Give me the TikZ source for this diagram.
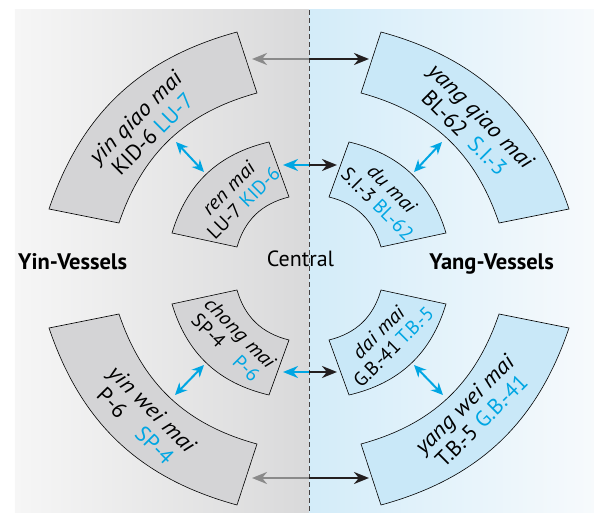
\documentclass[tikz,border=0pt]{standalone}
\usepackage{fontspec}
\setmainfont{PT Sans}[ItalicFeatures={FakeStretch=1.1}]
\usepackage{xcolor}
\usetikzlibrary{arrows.meta,calc}
\definecolor{yinfill}{HTML}{D4D4D6}
\definecolor{yangfill}{HTML}{C9E8F8}
\definecolor{pointblue}{HTML}{00A6E3}
\definecolor{yinleft}{HTML}{F6F6F6}
\definecolor{yinright}{HTML}{D9D9DA}
\definecolor{yangleft}{HTML}{D3ECF9}
\definecolor{yangright}{HTML}{F7FAFC}
\definecolor{arrowgray}{HTML}{8A8A8A}
\definecolor{arrowblack}{HTML}{231F20}

\begin{document}
\begin{tikzpicture}[x=1pt,y=1pt]
  \tikzset{yin sector/.style={draw=black,line width=0.6pt,fill=yinfill},
    yang sector/.style={draw=black,line width=0.6pt,fill=yangfill},
    vessel text/.style={align=center,inner sep=0pt,font=\fontsize{22}{24}\selectfont},
    small text/.style={vessel text,font=\fontsize{19.5}{21}\selectfont},
    side label/.style={inner sep=0pt,font=\fontsize{22.5}{23}\selectfont\bfseries},
    center arrow/.style={line width=2.4pt,-{Stealth[length=15pt,width=12pt]}},
    point arrow/.style={pointblue,line width=2pt,
      {Stealth[length=12pt,width=11pt]}-{Stealth[length=12pt,width=11pt]}}}%

  \useasboundingbox (-309,-244.5) rectangle (285,268.5);
  \shade[left color=yinleft,right color=yinright] (-294,-244.5) rectangle (0,258.5);
  \shade[left color=yangleft,right color=yangright] (0,-244.5) rectangle (285,258.5);
  \draw[arrowblack!85,line width=1pt,dash pattern=on 5pt off 3pt] (0,258.5) -- (0,-244.5);

  % outer vessels
  \draw[yin sector] (-72,236.5) to[bend right=28] (-260,59.5) -- (-190,45.5)
    to[bend left=28] (-52,175.5) -- cycle;
  \draw[yang sector] (72,236.5) to[bend left=28] (260,59.5) -- (190,45.5)
    to[bend right=28] (52,175.5) -- cycle;
  \draw[yin sector] (-72,-236.5) to[bend left=28] (-260,-59.5) -- (-190,-45.5)
    to[bend right=28] (-52,-175.5) -- cycle;
  \draw[yang sector] (72,-236.5) to[bend right=28] (260,-59.5) -- (190,-45.5)
    to[bend left=28] (52,-175.5) -- cycle;

  % inner vessels
  \draw[yin sector] (-40,126.5) to[bend right=30] (-137,35.5) -- (-72,21.5)
    to[bend left=30] (-20,71.5) -- cycle;
  \draw[yang sector] (40,126.5) to[bend left=30] (137,35.5) -- (72,21.5)
    to[bend right=30] (20,71.5) -- cycle;
  \draw[yin sector] (-40,-126.5) to[bend left=30] (-137,-35.5) -- (-72,-21.5)
    to[bend right=30] (-20,-71.5) -- cycle;
  \draw[yang sector] (40,-126.5) to[bend right=30] (137,-35.5) -- (72,-21.5)
    to[bend left=30] (20,-71.5) -- cycle;

  \node[vessel text,rotate=45] (yinqiao) at (-165,143)
    {\textit{yin qiao mai}\\KID-6 \textcolor{pointblue}{LU-7}};
  \node[small text,rotate=45] (renmai) at (-73,73)
    {\textit{ren mai}\\LU-7 \textcolor{pointblue}{KID-6}};
  \node[vessel text,rotate=-45] (yangqiao) at (164,144)
    {\textit{yang qiao mai}\\BL-62\enspace\textcolor{pointblue}{S.I.-3}};
  \node[small text,rotate=-45] (dumai) at (76,72)
    {\textit{du mai}\\S.I.-3 \textcolor{pointblue}{BL-62}};
  \node[small text,rotate=-45] (chongmai) at (-76,-72)
    {\textit{chong mai}\\SP-4\quad\textcolor{pointblue}{P-6}};
  \node[vessel text,rotate=-45] (yinwei) at (-165,-149)
    {\textit{yin wei mai}\\P-6\quad\textcolor{pointblue}{SP-4}};
  \node[small text,rotate=45] (daimai) at (77,-71)
    {\textit{dai mai}\\G.B.-41\,\textcolor{pointblue}{T.B.-5}};
  \node[vessel text,rotate=45] (yangwei) at (164,-144)
    {\textit{yang wei mai}\\T.B.-5 \textcolor{pointblue}{G.B.-41}};

  \node[side label,anchor=base west] (yinlabel) at (-291,-1) {Yin-Vessels};
  \node[side label,anchor=base east] (yanglabel) at (245,-1.5) {Yang-Vessels};
  \node[side label,anchor=base,font=\fontsize{22}{22}\selectfont] (central) at (-8.5,1.5) {Central};

  % connectors
  \coordinate (topmid) at (0,209.5);
  \coordinate (upmid) at (0,103.5);
  \coordinate (lowmid) at (0,-103.5);
  \coordinate (botmid) at (0,-209.5);
  \coordinate (yinqiaoend) at (-57,209.5);
  \coordinate (yangqiaoend) at (60,209.5);
  \coordinate (renend) at (-26,103.5);
  \coordinate (duend) at (28,103.5);
  \coordinate (chongend) at (-26,-103.5);
  \coordinate (daiend) at (28,-103.5);
  \coordinate (yinweiend) at (-57,-209.5);
  \coordinate (yangweiend) at (60,-209.5);
  \draw[center arrow,arrowgray] (topmid) -- (yinqiaoend);
  \draw[center arrow,arrowblack] (topmid) -- (yangqiaoend);
  \draw[center arrow,pointblue] (upmid) -- (renend);
  \draw[center arrow,arrowblack] (upmid) -- (duend);
  \draw[center arrow,pointblue] (lowmid) -- (chongend);
  \draw[center arrow,arrowblack] (lowmid) -- (daiend);
  \draw[center arrow,arrowgray] (botmid) -- (yinweiend);
  \draw[center arrow,arrowblack] (botmid) -- (yangweiend);

  \coordinate (yinqiaotip) at (-133,126.5);
  \coordinate (rentip) at (-105,96.5);
  \coordinate (yangqiaotip) at (133,126.5);
  \coordinate (dutip) at (105,96.5);
  \coordinate (chongtip) at (-105,-96.5);
  \coordinate (yinweitip) at (-134,-126.5);
  \coordinate (daitip) at (105,-96.5);
  \coordinate (yangweitip) at (134,-126.5);
  \draw[point arrow] (yinqiaotip) -- (rentip);
  \draw[point arrow] (yangqiaotip) -- (dutip);
  \draw[point arrow] (chongtip) -- (yinweitip);
  \draw[point arrow] (daitip) -- (yangweitip);
\end{tikzpicture}
\end{document}
